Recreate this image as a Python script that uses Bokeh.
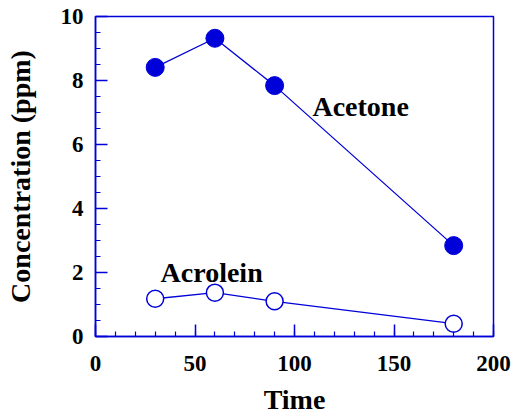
from bokeh.plotting import figure
from bokeh.models import Range1d, SingleIntervalTicker, Label
from bokeh.embed import file_html
from bokeh.resources import INLINE

time = [30, 60, 90, 180]
acetone = [8.41, 9.32, 7.84, 2.84]
acrolein = [1.18, 1.37, 1.10, 0.40]

BLUE = "#0000d8"
FONT = "Liberation Serif"

p = figure(width=512, height=418, output_backend="svg", toolbar_location=None,
           x_range=Range1d(0, 200), y_range=Range1d(0, 10),
           min_border_left=95, min_border_right=19, min_border_top=16, min_border_bottom=82)
p.grid.visible = False
p.outline_line_color = BLUE
p.outline_line_width = 1.5
p.background_fill_color = "white"
p.border_fill_color = "white"

p.line(time, acetone, line_color=BLUE, line_width=1.3)
p.scatter(time, acetone, size=18, fill_color=BLUE, line_color=BLUE)
p.line(time, acrolein, line_color=BLUE, line_width=1.3)
p.scatter(time, acrolein, size=17, fill_color="white", line_color=BLUE, line_width=1.5)

p.xaxis.ticker = SingleIntervalTicker(interval=50, num_minor_ticks=5)
p.yaxis.ticker = SingleIntervalTicker(interval=2, num_minor_ticks=4)
for ax in (p.xaxis, p.yaxis):
    ax.axis_line_color = BLUE
    ax.axis_line_width = 1.5
    ax.major_tick_line_color = BLUE
    ax.minor_tick_line_color = BLUE
    ax.major_tick_line_width = 1.5
    ax.minor_tick_line_width = 1.2
    ax.major_tick_in = 12
    ax.major_tick_out = 0
    ax.minor_tick_in = 5
    ax.minor_tick_out = 0
    ax.major_label_text_font = FONT
    ax.major_label_text_font_style = "bold"
    ax.major_label_text_font_size = "23px"
    ax.major_label_text_color = "black"
    ax.axis_label_text_font = FONT
    ax.axis_label_text_font_style = "bold"
    ax.axis_label_text_font_size = "28px"
    ax.axis_label_text_color = "black"

p.xaxis.axis_label = "Time"
p.yaxis.axis_label = "Concentration (ppm)"
p.xaxis.major_label_standoff = 19
p.yaxis.major_label_standoff = 12
p.xaxis.axis_label_standoff = 10
p.yaxis.axis_label_standoff = 22

p.add_layout(Label(x=109, y=7.2, text="Acetone", text_font=FONT, text_font_style="bold",
                   text_font_size="28px", text_baseline="middle", text_color="black"))
p.add_layout(Label(x=32.7, y=2.0, text="Acrolein", text_font=FONT, text_font_style="bold",
                   text_font_size="28px", text_baseline="middle", text_color="black"))

open("out.html", "w").write(file_html(p, INLINE))
